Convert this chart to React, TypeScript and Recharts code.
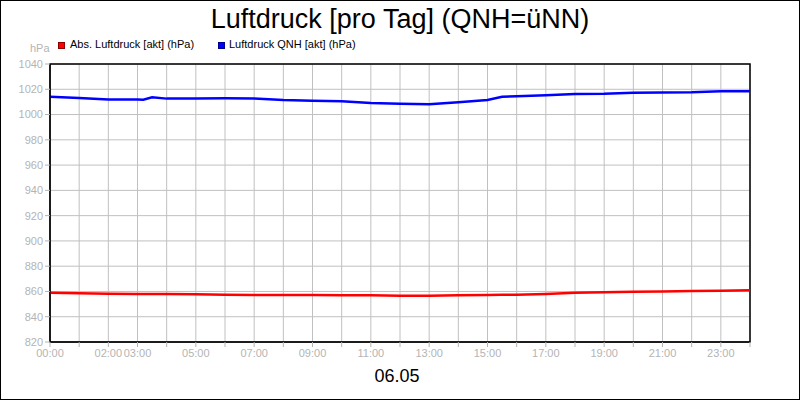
import React from "react";
import {
  LineChart,
  Line,
  XAxis,
  YAxis,
  CartesianGrid,
  ReferenceArea
} from "recharts";

// hours of the day (0 = 00:00, 24 = next midnight)
const hours = [
  0, 1, 2, 3, 3.2, 3.5, 4, 5, 6, 7, 8, 9, 10, 11, 12, 13, 14, 15, 15.5, 16,
  17, 18, 19, 20, 21, 22, 23, 24
];

const absPressure = [
  859.0, 858.5, 858.2, 858.0, 858.0, 857.9, 857.9, 857.7, 857.4, 857.2, 857.2,
  857.2, 856.9, 856.9, 856.6, 856.6, 856.9, 857.2, 857.3, 857.4, 858.0, 859.0,
  859.3, 859.8, 860.0, 860.3, 860.6, 860.9
];

const qnhPressure = [
  1014.1, 1013.1, 1012.0, 1012.0, 1011.8, 1013.6, 1012.6, 1012.6, 1012.8,
  1012.6, 1011.5, 1011.0, 1010.5, 1009.1, 1008.5, 1008.1, 1009.7, 1011.5,
  1014.0, 1014.5, 1015.2, 1016.3, 1016.4, 1017.3, 1017.4, 1017.6, 1018.4,
  1018.4
];

const hourTicks = Array.from({ length: 25 }, (_, i) => i);
const labeledHours = [0, 2, 3, 5, 7, 9, 11, 13, 15, 17, 19, 21, 23];
const pressureTicks = [820, 840, 860, 880, 900, 920, 940, 960, 980, 1000, 1020, 1040];

const data = hours.map((h, i) => ({
  hour: h,
  abs: absPressure[i],
  qnh: qnhPressure[i]
}));

const fmtHour = (h: number) =>
  labeledHours.includes(h) ? `${String(h).padStart(2, "0")}:00` : "";

const font = "'Liberation Sans', Arial, sans-serif";
const grey = "#b4b4b4";

const App: React.FC = () => {
  return (
    <div
      style={{
        position: "absolute",
        left: 0,
        top: 0,
        width: 800,
        height: 400,
        background: "#fff",
        fontFamily: font
      }}
    >
      <div
        style={{
          position: "absolute",
          left: 0,
          top: 2,
          width: 800,
          textAlign: "center",
          fontSize: 27,
          color: "#000",
          lineHeight: "34px"
        }}
      >
        Luftdruck [pro Tag] (QNH=üNN)
      </div>

      <div style={{ position: "absolute", left: 58, top: 42, width: 7, height: 7, background: "#ff0000", border: "0.5px solid #800", boxSizing: "border-box" }} />
      <div style={{ position: "absolute", left: 70, top: 37, fontSize: 11, color: "#000", lineHeight: "14px" }}>
        Abs. Luftdruck [akt] (hPa)
      </div>
      <div style={{ position: "absolute", left: 218, top: 42, width: 7, height: 7, background: "#0000ff", border: "0.5px solid #008", boxSizing: "border-box" }} />
      <div style={{ position: "absolute", left: 229, top: 37, fontSize: 11, color: "#000", lineHeight: "14px" }}>
        Luftdruck QNH [akt] (hPa)
      </div>
      <div style={{ position: "absolute", left: 30, top: 41, fontSize: 11, color: grey, lineHeight: "14px" }}>
        hPa
      </div>

      <LineChart
        width={800}
        height={400}
        data={data}
        margin={{ top: 64, right: 50, bottom: 38, left: 0 }}
        style={{ position: "absolute", left: 0, top: 0, fontFamily: font }}
      >
        <CartesianGrid stroke="#c0c0c0" strokeWidth={1} />
        <XAxis
          dataKey="hour"
          type="number"
          domain={[0, 24]}
          ticks={hourTicks}
          interval={0}
          tickFormatter={fmtHour}
          height={20}
          tickSize={5}
          tickMargin={2}
          axisLine={{ stroke: "#000" }}
          tickLine={{ stroke: grey }}
          tick={{ fill: grey, fontSize: 11 }}
        />
        <YAxis
          type="number"
          domain={[820, 1040]}
          ticks={pressureTicks}
          interval={0}
          width={50}
          tickSize={5}
          tickMargin={2}
          axisLine={{ stroke: "#000" }}
          tickLine={{ stroke: grey }}
          tick={{ fill: grey, fontSize: 11 }}
        />
        <Line
          type="linear"
          dataKey="abs"
          stroke="#ff0000"
          strokeWidth={2.5}
          dot={false}
          isAnimationActive={false}
        />
        <Line
          type="linear"
          dataKey="qnh"
          stroke="#0000ff"
          strokeWidth={2.5}
          dot={false}
          isAnimationActive={false}
        />
        <ReferenceArea
          x1={0}
          x2={24}
          y1={820}
          y2={1040}
          fill="none"
          fillOpacity={0}
          stroke="#000"
          strokeWidth={1.5}
        />
      </LineChart>

      <div
        style={{
          position: "absolute",
          left: 347,
          top: 366,
          width: 100,
          textAlign: "center",
          fontSize: 18,
          color: "#000",
          lineHeight: "20px"
        }}
      >
        06.05
      </div>

      <div
        style={{
          position: "absolute",
          left: 0,
          top: 0,
          width: 800,
          height: 400,
          border: "1px solid #000",
          boxSizing: "border-box",
          pointerEvents: "none"
        }}
      />
    </div>
  );
};

export default App;
